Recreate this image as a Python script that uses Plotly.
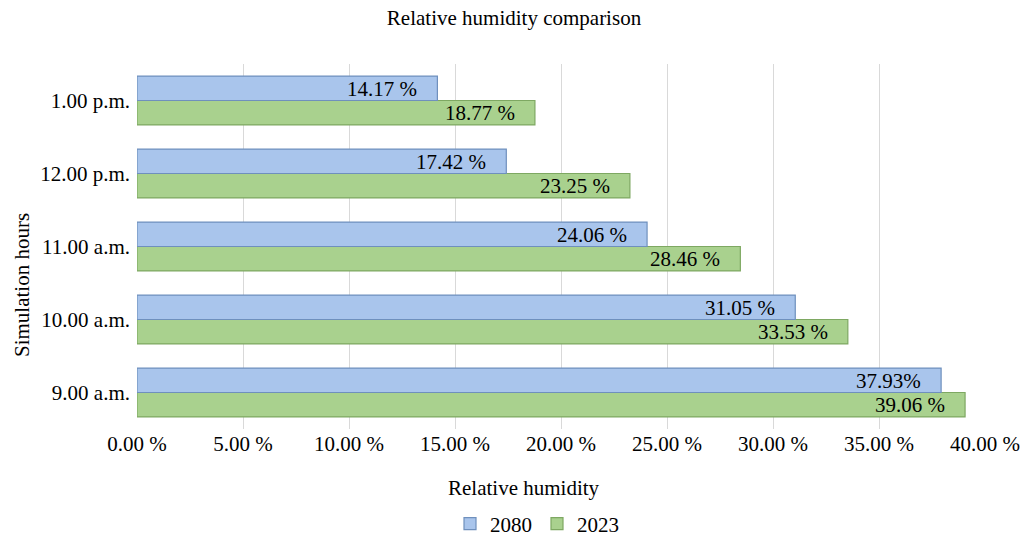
import plotly.graph_objects as go

categories = ["9.00 a.m.", "10.00 a.m.", "11.00 a.m.", "12.00 p.m.", "1.00 p.m."]
values_2080 = [37.93, 31.05, 24.06, 17.42, 14.17]
values_2023 = [39.06, 33.53, 28.46, 23.25, 18.77]
labels_2080 = ["37.93%", "31.05 %", "24.06 %", "17.42 %", "14.17 %"]
labels_2023 = ["39.06 %", "33.53 %", "28.46 %", "23.25 %", "18.77 %"]
tick_vals = [0, 5, 10, 15, 20, 25, 30, 35, 40]
tick_text = ["0.00 %", "5.00 %", "10.00 %", "15.00 %", "20.00 %", "25.00 %", "30.00 %", "35.00 %", "40.00 %"]

FONT = "Liberation Serif, Times New Roman, serif"
FS = 21

L, R, T, B = 137, 37, 64, 109
pw, ph = 1022 - L - R, 538 - T - B

def px_to_paper(xp, yp):
    return (xp - L) / pw, ((538 - yp) - B) / ph

fig = go.Figure()
fig.add_trace(go.Bar(
    y=categories, x=values_2023, orientation="h", name="2023",
    marker=dict(color="#a9d18e", line=dict(color="#7ea862", width=1.2)),
    legendrank=2,
))
fig.add_trace(go.Bar(
    y=categories, x=values_2080, orientation="h", name="2080",
    marker=dict(color="#a9c5ec", line=dict(color="#6f90bd", width=1.2)),
    legendrank=1,
))

annotations = []
for cat, v, t in zip(categories, values_2080, labels_2080):
    annotations.append(dict(x=v, y=cat, xref="x", yref="y", text=t, showarrow=False,
                            xanchor="right", yanchor="middle", xshift=-18, yshift=12,
                            font=dict(family=FONT, size=FS, color="black")))
for cat, v, t in zip(categories, values_2023, labels_2023):
    annotations.append(dict(x=v, y=cat, xref="x", yref="y", text=t, showarrow=False,
                            xanchor="right", yanchor="middle", xshift=-18, yshift=-12,
                            font=dict(family=FONT, size=FS, color="black")))

ax, ay = px_to_paper(524, 488)
annotations.append(dict(x=ax, y=ay, xref="paper", yref="paper", text="Relative humidity",
                        showarrow=False, xanchor="center", yanchor="middle",
                        font=dict(family=FONT, size=FS, color="black")))
sx, sy = px_to_paper(22, 285)
annotations.append(dict(x=sx, y=sy, xref="paper", yref="paper", text="Simulation hours",
                        showarrow=False, textangle=-90, xanchor="center", yanchor="middle",
                        font=dict(family=FONT, size=FS, color="black")))
lx, ly = px_to_paper(537, 524)

fig.update_layout(
    width=1022, height=538,
    paper_bgcolor="white", plot_bgcolor="white",
    barmode="group", bargap=0.33, bargroupgap=0,
    margin=dict(l=L, r=R, t=T, b=B, autoexpand=False),
    font=dict(family=FONT, size=FS, color="black"),
    title=dict(text="Relative humidity comparison", x=514 / 1022, xanchor="center",
               y=1 - 18 / 538, yanchor="middle", font=dict(family=FONT, size=FS, color="black")),
    legend=dict(orientation="h", x=lx, xanchor="center", y=ly, yanchor="middle",
                font=dict(family=FONT, size=FS, color="black"), traceorder="normal",
                itemwidth=30, tracegroupgap=0),
    annotations=annotations,
    showlegend=True,
)
fig.update_xaxes(
    range=[0, 40], tickvals=tick_vals, ticktext=tick_text, automargin=False,
    showgrid=True, gridcolor="#d9d9d9", gridwidth=1, zeroline=False,
    showline=False, ticks="", tickfont=dict(family=FONT, size=FS),
)
fig.update_yaxes(
    categoryorder="array", categoryarray=categories, automargin=False,
    showgrid=False, showline=False, ticks="", ticklen=0, ticklabelstandoff=6,
    tickfont=dict(family=FONT, size=FS),
)

fig.write_html("out.html", config={"displayModeBar": False},
               post_script="document.body.style.margin='0px';")
